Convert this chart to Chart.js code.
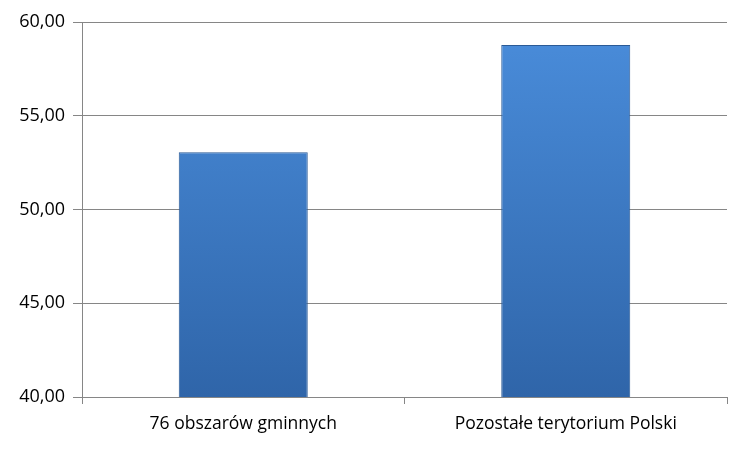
<!DOCTYPE html>
<html>
<head>
<meta charset="utf-8">
<script src="https://cdn.jsdelivr.net/npm/chart.js@4/dist/chart.umd.min.js"></script>
<style>
  html, body { margin: 0; padding: 0; background: #fff; }
  #wrap { width: 750px; height: 450px; }
</style>
</head>
<body>
<div id="wrap"><canvas id="barChart"></canvas></div>
<script>
const categories = ['76 obszarów gminnych', 'Pozostałe terytorium Polski'];
const values = [53.05, 58.78];
const yTicks = [40, 45, 50, 55, 60];

// vertical blue gradient like the Office bevel bars
function barFill(context) {
    const area = context.chart.chartArea;
    if (!area) return '#3c78c8';
    const g = context.chart.ctx.createLinearGradient(0, area.top, 0, area.bottom);
    g.addColorStop(0, '#4a8ddb');
    g.addColorStop(1, '#2f65a9');
    return g;
}

const ctx = document.getElementById('barChart').getContext('2d');
new Chart(ctx, {
    type: 'bar',
    data: {
        labels: categories,
        datasets: [{
            data: values,
            backgroundColor: barFill,
            borderColor: '#2a5a96',
            borderWidth: 1,
            categoryPercentage: 0.8,
            barPercentage: 0.5
        }]
    },
    options: {
        responsive: true,
        maintainAspectRatio: false,
        animation: false,
        layout: { padding: { top: 22, right: 23, bottom: 5, left: 0 } },
        plugins: {
            legend: { display: false },
            tooltip: { enabled: false }
        },
        scales: {
            y: {
                min: yTicks[0],
                max: yTicks[yTicks.length - 1],
                afterBuildTicks: axis => { axis.ticks = yTicks.map(v => ({ value: v })); },
                afterFit: axis => { axis.width = 82; },
                border: { color: '#868686' },
                grid: { color: '#868686', tickLength: 9, tickColor: '#868686' },
                ticks: {
                    color: '#000',
                    padding: 8,
                    font: { family: 'Open Sans', size: 18 },
                    callback: v => v.toFixed(2).replace('.', ',')
                }
            },
            x: {
                border: { color: '#868686' },
                grid: { offset: true, drawOnChartArea: false, tickLength: 7, color: '#868686' },
                ticks: {
                    color: '#000',
                    padding: 10,
                    font: { family: 'Open Sans', size: 17.5 }
                }
            }
        }
    }
});
</script>
</body>
</html>
